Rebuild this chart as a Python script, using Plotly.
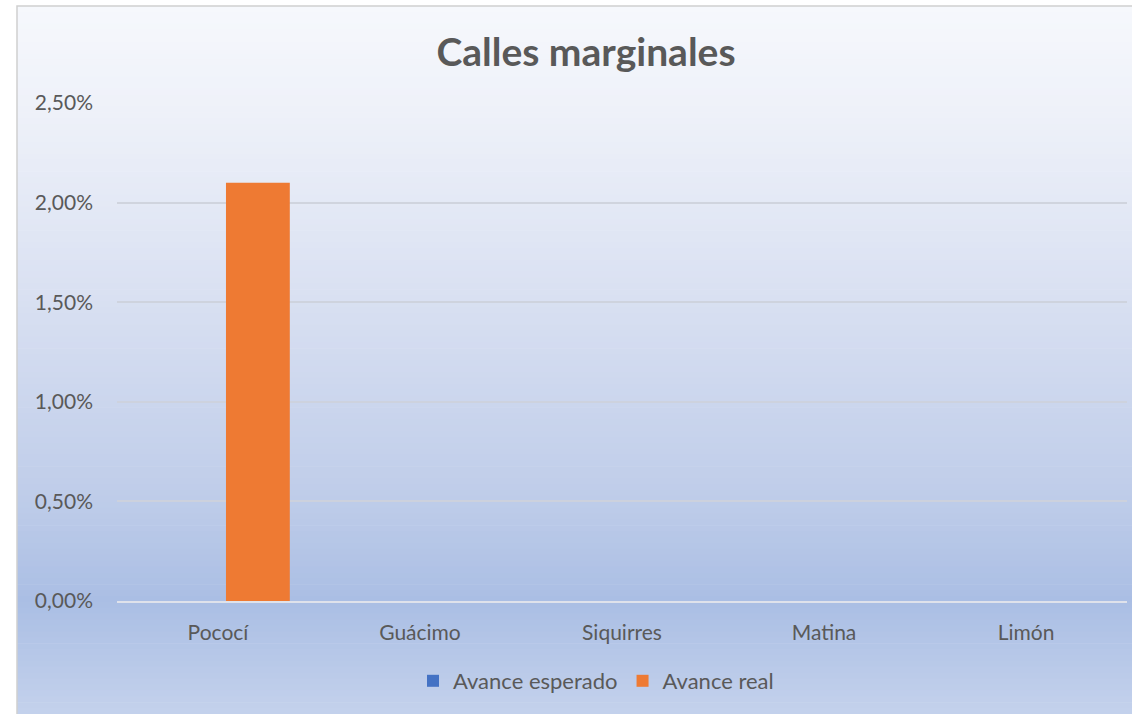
import plotly.graph_objects as go

categories = ["Pococí", "Guácimo", "Siquirres", "Matina", "Limón"]
avance_esperado = [0, 0, 0, 0, 0]
avance_real = [0.021, 0, 0, 0, 0]
y_ticks = [0, 0.005, 0.01, 0.015, 0.02, 0.025]

W, H = 1132, 714
ml, mr, mt, mb = 117, 5, 103, 113
pw, ph = W - ml - mr, H - mt - mb

def px_to_paper_x(px):
    return (px - ml) / pw

def px_to_paper_y(py):
    return (H - mb - py) / ph

# background gradient stops (fraction of frame height from top, rgb)
stops = [(0.0, (246, 248, 252)), (0.15, (238, 241, 249)), (0.4, (218, 225, 242)),
         (0.7, (190, 204, 233)), (0.84, (170, 190, 228)), (1.0, (196, 210, 236))]

def color_at(t):
    for i in range(len(stops) - 1):
        t0, c0 = stops[i]
        t1, c1 = stops[i + 1]
        if t0 <= t <= t1:
            f = (t - t0) / (t1 - t0)
            return "rgb(%d,%d,%d)" % tuple(round(c0[k] + (c1[k] - c0[k]) * f) for k in range(3))
    return "rgb(%d,%d,%d)" % stops[-1][1]

frame_top, frame_bot, frame_left, frame_right = 6, 714, 17, 1132
shapes = []
n = 120
for i in range(n):
    y0 = frame_top + (frame_bot - frame_top) * i / n
    y1 = frame_top + (frame_bot - frame_top) * (i + 1) / n + 0.6
    shapes.append(dict(type="rect", xref="paper", yref="paper", layer="below",
                       x0=px_to_paper_x(frame_left), x1=px_to_paper_x(frame_right),
                       y0=px_to_paper_y(min(y1, frame_bot)), y1=px_to_paper_y(y0),
                       fillcolor=color_at((i + 0.5) / n), line=dict(width=0)))
shapes.append(dict(type="rect", xref="paper", yref="paper", layer="below",
                   x0=px_to_paper_x(frame_left), x1=px_to_paper_x(frame_right + 5),
                   y0=px_to_paper_y(frame_bot + 5), y1=px_to_paper_y(frame_top),
                   fillcolor="rgba(0,0,0,0)", line=dict(color="#d0d0d0", width=1.5)))

fig = go.Figure()
fig.add_trace(go.Bar(x=categories, y=avance_esperado, name="Avance esperado",
                     marker=dict(color="#4472C4", line=dict(width=0))))
fig.add_trace(go.Bar(x=categories, y=avance_real, name="Avance real",
                     marker=dict(color="#EE7A33", line=dict(width=0))))

font_family = "Lato, Calibri, 'Open Sans', sans-serif"
fig.update_layout(
    width=W, height=H,
    margin=dict(l=ml, r=mr, t=mt, b=mb),
    paper_bgcolor="white",
    plot_bgcolor="rgba(0,0,0,0)",
    separators=", ",
    barmode="group",
    bargap=0.21,
    bargroupgap=0.2,
    shapes=shapes,
    title=dict(text="<b>Calles marginales</b>", x=px_to_paper_x(586), xref="paper",
               xanchor="center", y=1 - 52 / H, yanchor="middle",
               font=dict(family=font_family, size=39, color="#595959")),
    font=dict(family=font_family, size=21, color="#595959"),
    legend=dict(orientation="h", x=px_to_paper_x(596), xanchor="center", xref="paper",
                y=px_to_paper_y(681), yanchor="middle",
                font=dict(size=22, color="#595959"), bgcolor="rgba(0,0,0,0)",
                itemwidth=30, traceorder="normal"),
    showlegend=True,
)
fig.update_yaxes(range=[0, 0.025], tickvals=y_ticks, tickformat=".2%",
                 showgrid=True, gridcolor="rgba(205,210,220,0.9)", gridwidth=1.5,
                 zeroline=False, showline=False, ticks="", ticklabelstandoff=23,
                 tickfont=dict(size=21, color="#595959"))
fig.update_xaxes(showgrid=False, showline=True, linecolor="rgba(225,228,235,0.95)",
                 linewidth=2, ticks="", tickfont=dict(size=21, color="#595959"),
                 ticklabelstandoff=12)

fig.write_html("out.html", config={"displayModeBar": False},
               post_script="document.body.style.margin='0';document.body.style.overflow='hidden';")
